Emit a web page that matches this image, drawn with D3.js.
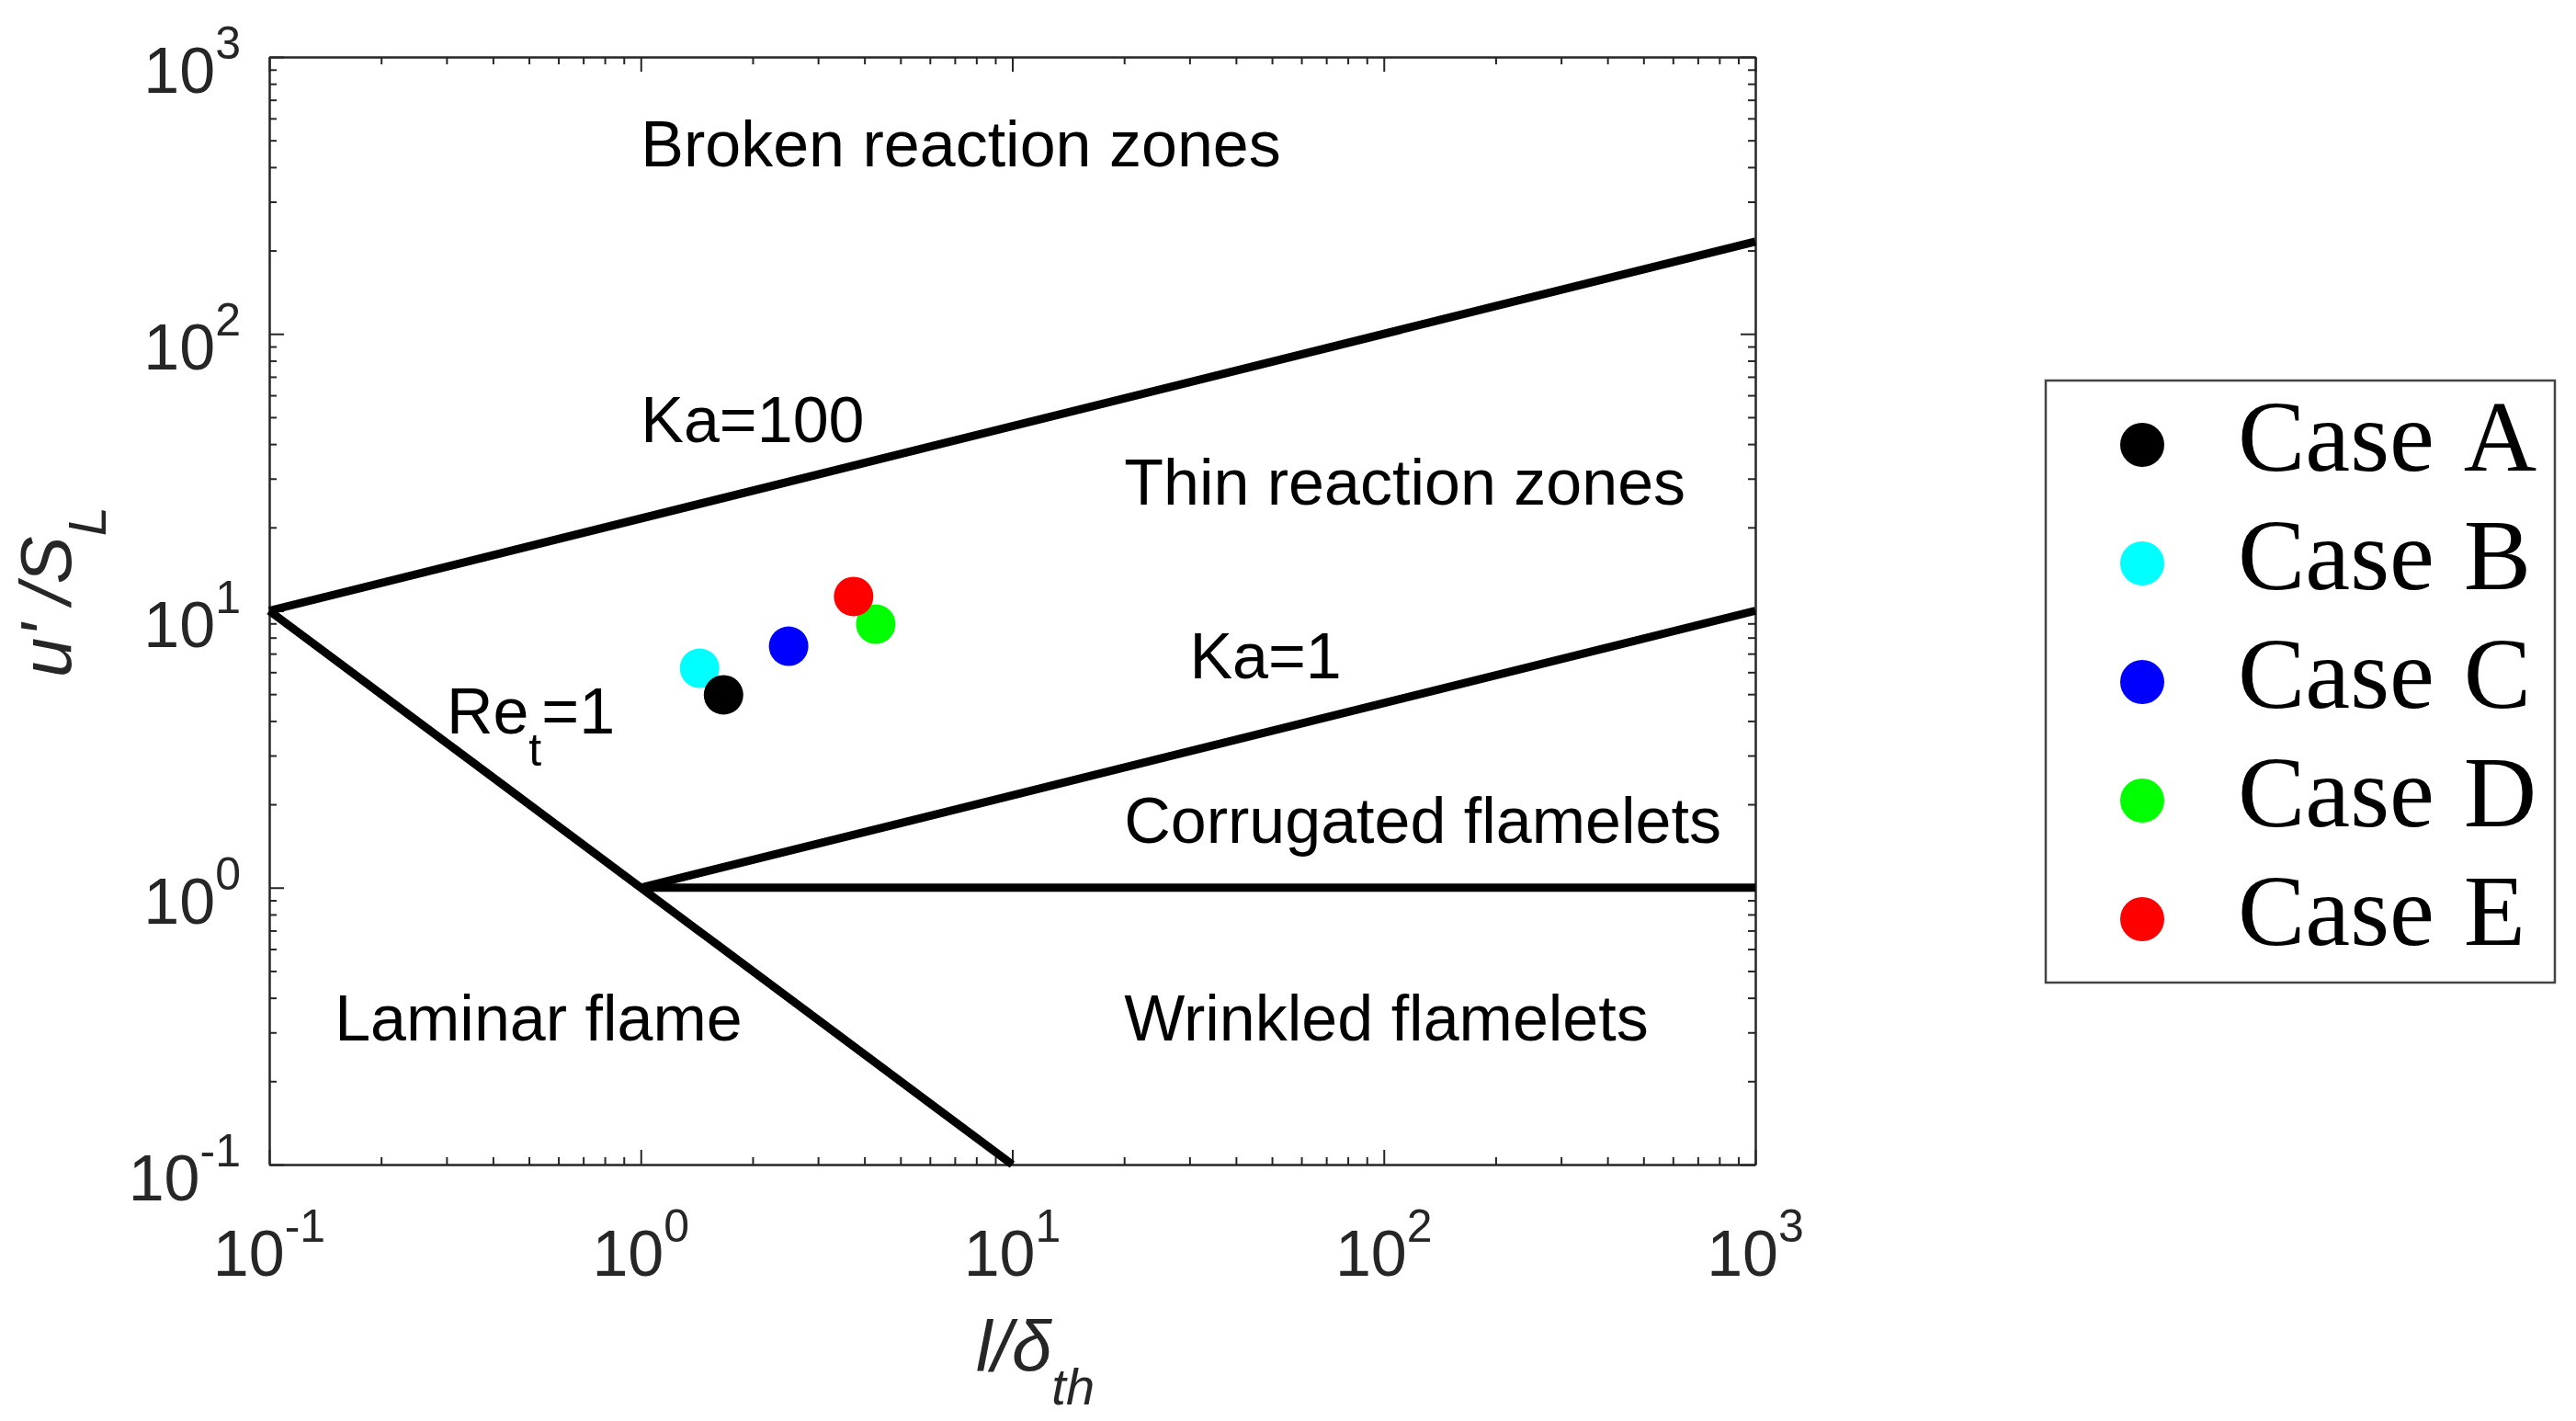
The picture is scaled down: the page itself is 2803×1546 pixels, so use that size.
<!DOCTYPE html>
<html>
<head>
<meta charset="utf-8">
<script src="https://cdn.jsdelivr.net/npm/d3@7"></script>
<style>
  html, body { margin: 0; padding: 0; background: #fff; }
  svg { display: block; }
</style>
</head>
<body>
<svg id="chart" width="2803" height="1546"></svg>
<script>
// ---------------- DATA ----------------
const caseNames = ["Case A", "Case B", "Case C", "Case D", "Case E"];
const caseColors = ["#000000", "#00ffff", "#0000ff", "#00ff00", "#ff0000"];
const caseX = [1.67, 1.44, 2.50, 4.29, 3.74];   // l/δ_th
const caseY = [4.97, 6.20, 7.45, 8.95, 11.26];  // u'/S_L
const drawOrder = [1, 0, 2, 3, 4];

// regime boundaries [l/δ, u'/S_L]
const lineKa100 = [[0.1, 10], [1000, 215.4]];
const lineKa1   = [[1, 1], [1000, 10]];
const lineRe1   = [[0.1, 10], [10, 0.1]];
const lineUnity = [[1, 1], [1000, 1]];

const tickValues = [0.1, 1, 10, 100, 1000];
const tickExponents = ["-1", "0", "1", "2", "3"];

const regionLabels = ["Broken reaction zones", "Ka=100", "Thin reaction zones", "Ka=1",
                      "Corrugated flamelets", "Wrinkled flamelets", "Laminar flame"];
const regionLabelX = [1.0, 1.0, 20, 30, 20, 20, 0.15];
const regionLabelY = [403, 40.6, 24.2, 5.7, 1.45, 0.281, 0.281];

// ---------------- LAYOUT ----------------
const svg = d3.select("#chart");
const L = 293, R = 1910, T = 62, B = 1267;
const x = d3.scaleLog().domain([0.1, 1000]).range([L, R]);
const y = d3.scaleLog().domain([0.1, 1000]).range([B, T]);
const axisColor = "#262626";
const sans = "'Liberation Sans', Arial, Helvetica, sans-serif";

svg.append("rect").attr("width", 2803).attr("height", 1546).attr("fill", "#fff");

// minor ticks
const minorTicks = [];
for (let k = -1; k < 3; k++) for (let m = 2; m <= 9; m++) minorTicks.push(m * Math.pow(10, k));

function drawAxis(axisFn, scale, transform, vals, size) {
  const g = svg.append("g").attr("transform", transform)
    .call(axisFn(scale).tickValues(vals).tickSizeInner(-size).tickSizeOuter(0).tickFormat(""));
  g.selectAll("path.domain").attr("stroke", axisColor).attr("stroke-width", 2);
  g.selectAll(".tick line").attr("stroke", axisColor).attr("stroke-width", 2);
  return g;
}
// major and minor ticks on all four sides (inward)
[[tickValues, 16], [minorTicks, 8]].forEach(([vals, size]) => {
  drawAxis(d3.axisBottom, x, `translate(0,${B})`, vals, size);
  drawAxis(d3.axisTop, x, `translate(0,${T})`, vals, size);
  drawAxis(d3.axisLeft, y, `translate(${L},0)`, vals, size);
  drawAxis(d3.axisRight, y, `translate(${R},0)`, vals, size);
});

// tick labels 10^k
tickValues.forEach((v, i) => {
  const tx = svg.append("text").attr("x", x(v)).attr("y", B + 121)
    .attr("text-anchor", "middle").attr("font-family", sans).attr("font-size", 70).attr("fill", axisColor);
  tx.append("tspan").text("10");
  tx.append("tspan").attr("dy", -37).attr("font-size", 50).text(tickExponents[i]);

  const ty = svg.append("text").attr("x", L - 31).attr("y", y(v) + 39)
    .attr("text-anchor", "end").attr("font-family", sans).attr("font-size", 70).attr("fill", axisColor);
  ty.append("tspan").text("10");
  ty.append("tspan").attr("dy", -37).attr("font-size", 50).text(tickExponents[i]);
});

// axis titles
const xt = svg.append("text").attr("x", 1062).attr("y", 1492)
  .attr("font-family", sans).attr("font-style", "italic").attr("font-size", 78).attr("fill", axisColor);
xt.append("tspan").text("l/δ");
xt.append("tspan").attr("dy", 36).attr("font-size", 56).text("th");

const yt = svg.append("text").attr("transform", "translate(77,737) rotate(-90)")
  .attr("font-family", sans).attr("font-style", "italic").attr("font-size", 78).attr("fill", axisColor);
yt.append("tspan").text("u' /S");
yt.append("tspan").attr("dy", 38).attr("font-size", 58).text("L");

// regime lines
const line = d3.line().x(d => x(d[0])).y(d => y(d[1]));
[lineKa100, lineKa1, lineRe1, lineUnity].forEach(pts => {
  svg.append("path").attr("d", line(pts)).attr("fill", "none")
    .attr("stroke", "#000").attr("stroke-width", 9).attr("stroke-linejoin", "round");
});

// region labels
regionLabels.forEach((t, i) => {
  svg.append("text").attr("x", x(regionLabelX[i])).attr("y", y(regionLabelY[i]))
    .attr("font-family", sans).attr("font-size", 70).attr("fill", "#000").text(t);
});
// Re_t = 1
const re = svg.append("text").attr("x", x(0.3)).attr("y", y(3.6))
  .attr("font-family", sans).attr("font-size", 70).attr("fill", "#000");
re.append("tspan").text("Re");
re.append("tspan").attr("dy", 35).attr("font-size", 50).text("t");
re.append("tspan").attr("dy", -35).text("=1");

// data points
drawOrder.forEach(i => {
  svg.append("circle").attr("cx", x(caseX[i])).attr("cy", y(caseY[i])).attr("r", 21.5)
    .attr("fill", caseColors[i]);
});

// legend
const lg = svg.append("g");
lg.append("rect").attr("x", 2226).attr("y", 414).attr("width", 554).attr("height", 655)
  .attr("fill", "#fff").attr("stroke", "#444").attr("stroke-width", 2.5);
caseNames.forEach((n, i) => {
  const cy = 484 + i * 129;
  lg.append("circle").attr("cx", 2331).attr("cy", cy).attr("r", 24).attr("fill", caseColors[i]);
  const parts = n.split(" ");
  const t = lg.append("text").attr("x", 2435).attr("y", cy + 28)
    .attr("font-family", "'Liberation Serif', 'DejaVu Serif', serif").attr("font-size", 110)
    .attr("fill", "#000");
  t.append("tspan").text(parts[0]);
  t.append("tspan").attr("dx", 32).text(parts[1]);
});
</script>
</body>
</html>
